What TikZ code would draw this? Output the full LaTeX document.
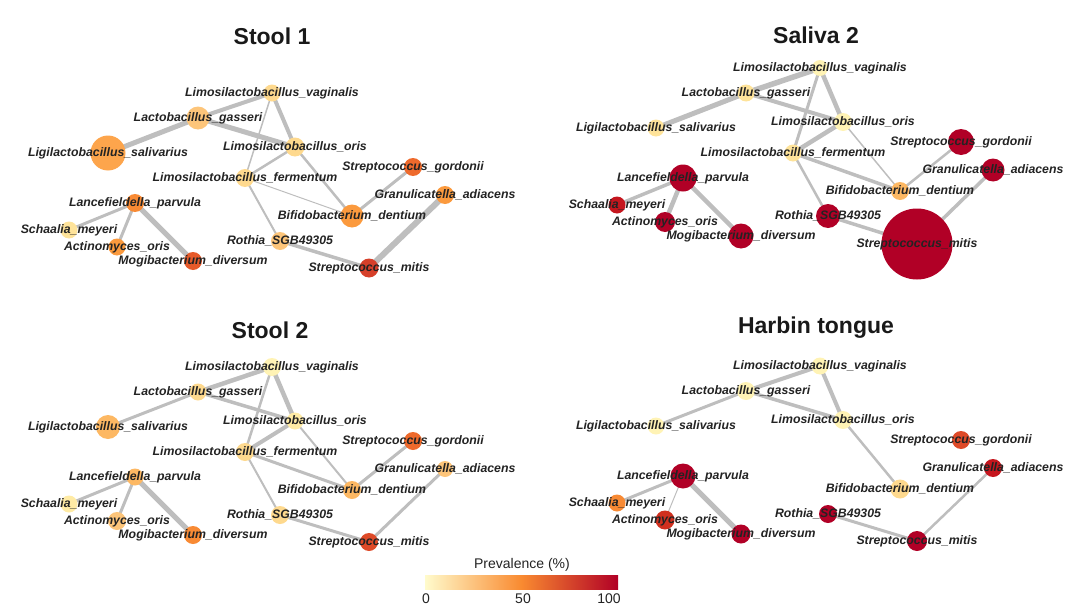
\documentclass[tikz,border=0pt]{standalone}
\usepackage{fontspec}
\setmainfont{Liberation Sans}
\pgfdeclarelayer{bg}
\pgfsetlayers{bg,main}
\definecolor{p10}{HTML}{FFF3B5}
\definecolor{p15}{HTML}{FFEBA5}
\definecolor{p20}{HTML}{FEE39A}
\definecolor{p25}{HTML}{FED98E}
\definecolor{p35}{HTML}{FDC57A}
\definecolor{p40}{HTML}{FDB863}
\definecolor{p45}{HTML}{FDA54C}
\definecolor{p50}{HTML}{FB9A3E}
\definecolor{p55}{HTML}{F88A34}
\definecolor{p65}{HTML}{EE6A2C}
\definecolor{p70}{HTML}{E65A2A}
\definecolor{p75}{HTML}{DE4A28}
\definecolor{p80}{HTML}{D6402A}
\definecolor{p85}{HTML}{D0301F}
\definecolor{p90}{HTML}{C5161E}
\definecolor{p100}{HTML}{B10026}
\definecolor{bar0}{HTML}{FFFBCC}
\definecolor{bar50}{HTML}{F98A30}
\definecolor{edgegray}{HTML}{BEBEBE}
\definecolor{labtext}{HTML}{232323}
\tikzset{
  bug/.style={circle, inner sep=0pt, draw=none},
  lab/.style={font=\fontsize{12.3}{14}\selectfont\bfseries\itshape, text=labtext, inner sep=0pt},
  edge/.style={draw=edgegray},
  ttl/.style={font=\fontsize{23}{26}\selectfont\bfseries, text=black!90, anchor=base, inner sep=0pt},
  legtxt/.style={font=\fontsize{14}{16}\selectfont, text=labtext, anchor=base, inner sep=0pt},
}
\newcommand\bug[4]{\node[bug, minimum size=#3pt, fill=#4] (#1) at #2 {};}
\newcommand\blab[2]{\node[lab] (#1-t) at (#1) {#2};}
\newcommand\link[3]{\begin{pgfonlayer}{bg}\draw[edge, line width=#1pt] (#2.center) -- (#3.center);\end{pgfonlayer}}
\newcommand\labelsall[1]{%
  \blab{#1-vag}{Limosilactobacillus\_vaginalis}
  \blab{#1-gas}{Lactobacillus\_gasseri}
  \blab{#1-sal}{Ligilactobacillus\_salivarius}
  \blab{#1-ori}{Limosilactobacillus\_oris}
  \blab{#1-gor}{Streptococcus\_gordonii}
  \blab{#1-adi}{Granulicatella\_adiacens}
  \blab{#1-den}{Bifidobacterium\_dentium}
  \blab{#1-rot}{Rothia\_SGB49305}
  \blab{#1-mit}{Streptococcus\_mitis}
  \blab{#1-par}{Lancefieldella\_parvula}
  \blab{#1-sch}{Schaalia\_meyeri}
  \blab{#1-act}{Actinomyces\_oris}
  \blab{#1-mog}{Mogibacterium\_diversum}}
\begin{document}
\begin{tikzpicture}[x=1pt,y=-1pt]
\useasboundingbox (0,0) rectangle (1080,613);

% titles
\node[ttl] (t1) at (272,44) {Stool 1};
\node[ttl] (t2) at (816,43) {Saliva 2};
\node[ttl] (t3) at (270,338) {Stool 2};
\node[ttl] (t4) at (816,333) {Harbin tongue};

% ---------- Stool 1 ----------
\begin{scope}
\bug{A-vag}{(272,93)}{17}{p25}
\bug{A-gas}{(198,118)}{23}{p35}
\bug{A-sal}{(108,153)}{35}{p45}
\bug{A-ori}{(295,147)}{19}{p25}
\bug{A-fer}{(245,178)}{18}{p25}
\bug{A-gor}{(413,167)}{18}{p65}
\bug{A-adi}{(445,195)}{18}{p50}
\bug{A-den}{(352,216)}{23}{p50}
\bug{A-rot}{(280,241)}{18}{p35}
\bug{A-mit}{(369,268)}{19}{p80}
\bug{A-par}{(135,203)}{18}{p55}
\bug{A-sch}{(69,230)}{17}{p20}
\bug{A-act}{(117,247)}{17}{p50}
\bug{A-mog}{(193,261)}{18}{p70}
\labelsall{A}
\blab{A-fer}{Limosilactobacillus\_fermentum}
\link{4}{A-gas}{A-vag}
\link{5}{A-gas}{A-sal}
\link{5}{A-gas}{A-ori}
\link{4}{A-vag}{A-ori}
\link{1.5}{A-vag}{A-fer}
\link{2.5}{A-ori}{A-fer}
\link{2.5}{A-ori}{A-den}
\link{1}{A-fer}{A-den}
\link{2}{A-fer}{A-rot}
\link{3}{A-den}{A-gor}
\link{6}{A-adi}{A-mit}
\link{3.5}{A-rot}{A-mit}
\link{3}{A-par}{A-sch}
\link{3}{A-par}{A-act}
\link{5}{A-par}{A-mog}
\end{scope}

% ---------- Saliva 2 ----------
\begin{scope}[shift={(548,-25)}]
\bug{B-vag}{(272,93)}{16}{p10}
\bug{B-gas}{(198,118)}{17}{p20}
\bug{B-sal}{(108,153)}{17}{p20}
\bug{B-ori}{(295,147)}{18}{p10}
\bug{B-fer}{(245,178)}{17}{p20}
\bug{B-gor}{(413,167)}{26}{p100}
\bug{B-adi}{(445,195)}{23}{p100}
\bug{B-den}{(352,216)}{18}{p40}
\bug{B-rot}{(280,241)}{24}{p100}
\bug{B-mit}{(369,269)}{71}{p100}
\bug{B-par}{(135,203)}{27}{p100}
\bug{B-sch}{(69,230)}{17}{p90}
\bug{B-act}{(117,247)}{20}{p100}
\bug{B-mog}{(193,261)}{25}{p100}
\labelsall{B}
\blab{B-fer}{Limosilactobacillus\_fermentum}
\link{5.5}{B-gas}{B-vag}
\link{5}{B-gas}{B-sal}
\link{4}{B-gas}{B-ori}
\link{4.5}{B-vag}{B-ori}
\link{3}{B-vag}{B-fer}
\link{4.5}{B-ori}{B-fer}
\link{1.5}{B-ori}{B-den}
\link{3.5}{B-fer}{B-den}
\link{2.5}{B-fer}{B-rot}
\link{2.5}{B-den}{B-gor}
\link{3.5}{B-adi}{B-mit}
\link{3.5}{B-rot}{B-mit}
\link{3.5}{B-par}{B-sch}
\link{4.5}{B-par}{B-act}
\link{4.5}{B-par}{B-mog}
\end{scope}

% ---------- Stool 2 ----------
\begin{scope}[shift={(0,274)}]
\bug{C-vag}{(272,93)}{18}{p10}
\bug{C-gas}{(198,118)}{17}{p25}
\bug{C-sal}{(108,153)}{24}{p40}
\bug{C-ori}{(295,147)}{17}{p15}
\bug{C-fer}{(245,178)}{18}{p25}
\bug{C-gor}{(413,167)}{18}{p65}
\bug{C-adi}{(445,195)}{16}{p35}
\bug{C-den}{(352,216)}{18}{p40}
\bug{C-rot}{(280,241)}{18}{p25}
\bug{C-mit}{(369,268)}{18}{p75}
\bug{C-par}{(135,203)}{17}{p40}
\bug{C-sch}{(69,230)}{17}{p15}
\bug{C-act}{(117,247)}{18}{p35}
\bug{C-mog}{(193,261)}{18}{p55}
\labelsall{C}
\blab{C-fer}{Limosilactobacillus\_fermentum}
\link{4.5}{C-gas}{C-vag}
\link{3}{C-gas}{C-sal}
\link{3.5}{C-gas}{C-ori}
\link{4.5}{C-vag}{C-ori}
\link{2.5}{C-vag}{C-fer}
\link{4}{C-ori}{C-fer}
\link{2}{C-ori}{C-den}
\link{3}{C-fer}{C-den}
\link{2}{C-fer}{C-rot}
\link{3}{C-den}{C-gor}
\link{3}{C-adi}{C-mit}
\link{3}{C-rot}{C-mit}
\link{3}{C-par}{C-sch}
\link{3}{C-par}{C-act}
\link{5}{C-par}{C-mog}
\end{scope}

% ---------- Harbin tongue ----------
\begin{scope}[shift={(548,273)}]
\bug{D-vag}{(272,93)}{17}{p10}
\bug{D-gas}{(198,118)}{18}{p10}
\bug{D-sal}{(108,153)}{17}{p10}
\bug{D-ori}{(295,147)}{18}{p10}
\bug{D-gor}{(413,167)}{18}{p75}
\bug{D-adi}{(445,195)}{18}{p90}
\bug{D-den}{(352,216)}{19}{p25}
\bug{D-rot}{(280,241)}{18}{p100}
\bug{D-mit}{(369,268)}{20}{p100}
\bug{D-par}{(135,203)}{25}{p100}
\bug{D-sch}{(69,230)}{17}{p55}
\bug{D-act}{(117,247)}{19}{p85}
\bug{D-mog}{(193,261)}{19}{p100}
\labelsall{D}
\link{4}{D-gas}{D-vag}
\link{3}{D-gas}{D-sal}
\link{3.5}{D-gas}{D-ori}
\link{4}{D-vag}{D-ori}
\link{2.5}{D-ori}{D-den}
\link{2.5}{D-adi}{D-mit}
\link{3}{D-rot}{D-mit}
\link{3}{D-par}{D-sch}
\link{1}{D-par}{D-act}
\link{5}{D-par}{D-mog}
\end{scope}

% ---------- legend ----------
\node[legtxt] (legt) at (522,568) {Prevalence (\%)};
\node[inner sep=0pt, minimum width=193pt, minimum height=13.5pt,
      left color=bar0, right color=p100, middle color=bar50] (bar) at (521.5,582.5) {};
\node[legtxt] (l0) at (426,603) {0};
\node[legtxt] (l50) at (523,603) {50};
\node[legtxt] (l100) at (609,603) {100};
\end{tikzpicture}
\end{document}
